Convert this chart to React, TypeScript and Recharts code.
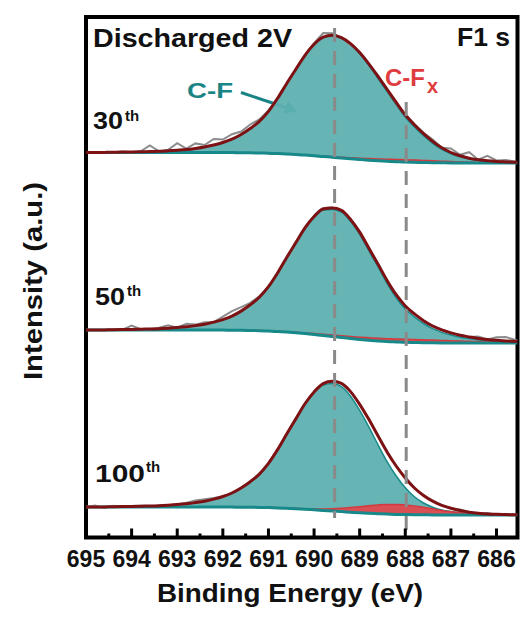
import React from 'react';
import { ComposedChart, Area, Line, XAxis, YAxis, ReferenceLine, ReferenceArea } from 'recharts';

// Binding energy grid (eV)
const energy = [695, 694.8, 694.6, 694.4, 694.2, 694, 693.8, 693.6, 693.4, 693.2, 693, 692.8, 692.6, 692.4, 692.2, 692, 691.8, 691.6, 691.4, 691.2, 691, 690.8, 690.6, 690.4, 690.2, 690, 689.8, 689.6, 689.4, 689.2, 689, 688.8, 688.6, 688.4, 688.2, 688, 687.8, 687.6, 687.4, 687.2, 687, 686.8, 686.6, 686.4, 686.2, 686, 685.8, 685.54];

// 30th cycle (offset trace, top)
const bg30 = [386.5, 386.5, 386.5, 386.5, 386.5, 386.5, 386.5, 386.5, 386.5, 386.5, 386.5, 386.5, 386.5, 386.5, 386.5, 386.5, 386.4, 386.3, 386.2, 386.0, 385.7, 385.4, 385.0, 384.5, 383.9, 383.3, 382.5, 381.8, 381.0, 380.2, 379.5, 378.8, 378.2, 377.7, 377.3, 376.9, 376.7, 376.5, 376.3, 376.2, 376.1, 376.1, 376.0, 376.0, 376.0, 376.0, 376.0, 376.0];
const cf30 = [0, 0, 0.1, 0.2, 0.4, 0.5, 0.7, 1.0, 1.2, 1.7, 2.3, 3.0, 4.1, 5.5, 7.5, 10.0, 13.4, 18.2, 24.3, 31.6, 41.9, 55.3, 70.5, 85.1, 99.6, 111.2, 119.1, 121.5, 119.7, 114.2, 105.7, 94.8, 82.6, 69.9, 57.1, 45.0, 35.2, 26.7, 19.4, 13.4, 9.1, 6.1, 4.0, 2.7, 1.8, 1.2, 0.9, 0.6];
const cfx30 = [0, 0, 0, 0, 0, 0, 0, 0, 0, 0, 0, 0, 0, 0, 0, 0, 0, 0, 0, 0, 0, 0, 0.05, 0.1, 0.15, 0.25, 0.35, 0.5, 0.7, 1.0, 1.3, 1.6, 1.9, 2.1, 2.3, 2.3, 2.3, 2.1, 1.9, 1.6, 1.3, 1.0, 0.8, 0.6, 0.4, 0.3, 0.2, 0.1];
const raw30 = [0, -0.5, 0.5, 0, 0.5, -0.5, 0.5, 6, 0, 1, 7, 1, 5, 2, 6, 3, 5, 3, 4, 2, 1, 0, -1, 0, 0, 1, 4, 2, 0, -1, 0, 0, 1, 0, -1, 0, 0.5, 1, 2, 0, 4, 1, 6, 0, 5, 1, 2, 0];

// 50th cycle (middle)
const bg50 = [209, 209, 209, 209, 209, 209, 209, 209, 209, 209, 209, 209, 209, 209, 209, 208.9, 208.8, 208.7, 208.5, 208.3, 207.9, 207.5, 206.9, 206.2, 205.4, 204.5, 203.5, 202.5, 201.5, 200.5, 199.6, 198.8, 198.1, 197.5, 197.1, 196.7, 196.5, 196.3, 196.2, 196.1, 196, 196, 196, 196, 196, 196, 196, 196];
const cf50 = [0, 0, 0.1, 0.3, 0.4, 0.5, 0.8, 1.0, 1.3, 1.8, 2.4, 3.2, 4.4, 5.8, 7.9, 10.5, 14.1, 19.2, 25.6, 33.3, 44.2, 58.2, 74.2, 89.6, 105.0, 117.1, 125.4, 127.0, 125.4, 117.1, 105.0, 89.6, 74.2, 58.2, 44.2, 33.3, 25.6, 19.2, 14.1, 10.5, 7.9, 5.8, 4.4, 3.2, 2.4, 1.8, 1.3, 1.0];
const cfx50 = [0, 0, 0, 0, 0, 0, 0, 0, 0, 0, 0, 0, 0, 0, 0, 0, 0, 0, 0.1, 0.14, 0.21, 0.3, 0.41, 0.55, 0.72, 0.92, 1.15, 1.4, 1.68, 1.96, 2.23, 2.48, 2.69, 2.86, 2.96, 3.0, 2.96, 2.86, 2.69, 2.48, 2.23, 1.96, 1.68, 1.4, 1.15, 0.92, 0.72, 0.55];
const raw50 = [0, 0, 0, 0, 0, 4, 0, 0, 1, 3, 0, 3, 1, 2, 0, 3, 5, 4, 2, 1, 0, 0, 0, 0, 0, 0, 1, 0.5, 0, 0, 0, 0, 0, 0, 0, 0, 0, 0, 0, 0, 0, 0, 0, 2, 0, 3, 4, 1];

// 100th cycle (bottom)
const bg100 = [32, 32, 32, 32, 32, 32, 32, 32, 32, 32, 32, 32, 32, 32, 32, 32, 31.9, 31.8, 31.7, 31.6, 31.4, 31.1, 30.7, 30.3, 29.8, 29.2, 28.6, 28.0, 27.4, 26.8, 26.2, 25.7, 25.3, 24.9, 24.6, 24.4, 24.3, 24.2, 24.1, 24, 24, 24, 24, 24, 24, 24, 24, 24];
const cf100 = [0, 0, 0.1, 0.3, 0.4, 0.5, 0.8, 1.0, 1.3, 1.8, 2.4, 3.2, 4.4, 5.8, 7.9, 10.5, 14.1, 19.2, 25.6, 33.3, 44.2, 58.2, 74.2, 89.6, 105.0, 117.1, 125.4, 127.5, 124.9, 116.0, 102.4, 86.4, 69.1, 52.5, 38.4, 26.9, 17.9, 11.8, 7.7, 5.1, 3.5, 2.3, 1.5, 1.0, 0.6, 0.4, 0.3, 0.1];
const cfx100 = [0, 0, 0, 0, 0, 0, 0, 0, 0, 0, 0, 0, 0, 0, 0, 0, 0, 0, 0, 0, 0, 0.05, 0.11, 0.23, 0.44, 0.79, 1.35, 2.16, 3.25, 4.58, 6.07, 7.55, 8.82, 9.69, 10, 9.69, 8.82, 7.55, 6.07, 4.58, 3.25, 2.16, 1.35, 0.79, 0.44, 0.23, 0.11, 0.05];
const raw100 = [0, 1.5, -1, 1, -0.5, 0, 0.5, 0, 0, 0, 0, 1, 2, 2, 1, 0, 0, 0, 0, 0, 0, 0, 0, 0, 0, 0, 0, 0, 0, 0, 0, 0, 0, 0, 0, 0, 0, 0, 0, 0, 0, 1, 0, 0, 1, 0, 0, 0];

const xTicks = [695, 694.5, 694, 693.5, 693, 692.5, 692, 691.5, 691, 690.5, 690, 689.5, 689, 688.5, 688, 687.5, 687, 686.5, 686];
const peakLines = [689.55, 687.98];

const series = [
  { k: '30', bg: bg30, cf: cf30, cfx: cfx30, raw: raw30 },
  { k: '50', bg: bg50, cf: cf50, cfx: cfx50, raw: raw50 },
  { k: '100', bg: bg100, cf: cf100, cfx: cfx100, raw: raw100 },
];

const rows = energy.map((e, i) => {
  const r: any = { e };
  series.forEach((s) => {
    const b = s.bg[i];
    const env = b + s.cf[i] + s.cfx[i];
    r['bg' + s.k] = b;
    r['cf' + s.k] = [b, b + s.cf[i]];
    r['cfx' + s.k] = [b, b + s.cfx[i]];
    r['env' + s.k] = env;
    r['raw' + s.k] = env + s.raw[i];
  });
  return r;
});

const FONT = "'Liberation Sans', Arial, Helvetica, sans-serif";
const TEAL_FILL = '#5eb0b0';
const TEAL_LINE = '#17898a';
const RED_FILL = '#de4a4f';
const RED_LINE = '#d23a3f';
const ENV = '#7d1215';
const RAW = '#8c8c8c';

const AxisTick = (props: any) => {
  const { x, y, payload } = props;
  const v = payload.value;
  const major = Math.abs(v - Math.round(v)) < 1e-6;
  return (
    <g>
      <line x1={x} x2={x} y1={y} y2={y - (major ? 9 : 4)} stroke="#000" strokeWidth={3} />
      {major && (
        <text x={x} y={y + 29.5} textAnchor="middle" fontSize={23} fontWeight="bold" fontFamily={FONT} fill="#111">
          {Math.round(v)}
        </text>
      )}
    </g>
  );
};

export default function App() {
  return (
    <div style={{ position: 'absolute', left: 0, top: 0, width: 520, height: 619, background: '#fff' }}>
      <ComposedChart width={520} height={619} data={rows} margin={{ top: 17, right: 2.5, bottom: 51.5, left: 86 }}>
        <XAxis
          dataKey="e"
          type="number"
          domain={[685.54, 695]}
          reversed
          ticks={xTicks}
          interval={0}
          tickLine={false}
          axisLine={false}
          tickSize={0}
          tickMargin={0}
          height={30}
          tick={<AxisTick />}
          allowDataOverflow
        />
        <YAxis hide type="number" domain={[1.5, 522]} allowDataOverflow />

        {series.map((s) => (
          <Area key={'cf' + s.k} dataKey={'cf' + s.k} type="monotone" fill={TEAL_FILL} fillOpacity={0.95} stroke={TEAL_LINE} strokeWidth={1.5} isAnimationActive={false} dot={false} activeDot={false} />
        ))}
        {series.map((s) => (
          <Area key={'cfx' + s.k} dataKey={'cfx' + s.k} type="monotone" fill={RED_FILL} fillOpacity={0.95} stroke={RED_LINE} strokeWidth={1.5} isAnimationActive={false} dot={false} activeDot={false} />
        ))}
        {series.map((s) => (
          <Line key={'bg' + s.k} dataKey={'bg' + s.k} type="monotone" stroke={TEAL_LINE} strokeWidth={3} dot={false} activeDot={false} isAnimationActive={false} />
        ))}
        {series.map((s) => (
          <Line key={'raw' + s.k} dataKey={'raw' + s.k} type="linear" stroke={RAW} strokeWidth={2} dot={false} activeDot={false} isAnimationActive={false} />
        ))}
        {series.map((s) => (
          <Line key={'env' + s.k} dataKey={'env' + s.k} type="monotone" stroke={ENV} strokeWidth={3} dot={false} activeDot={false} isAnimationActive={false} />
        ))}

        <ReferenceLine segment={[{ x: peakLines[0], y: 511 }, { x: peakLines[0], y: 21 }]} stroke="#8a8a8a" strokeWidth={3} strokeDasharray="14 9" />
        <ReferenceLine segment={[{ x: peakLines[1], y: 437 }, { x: peakLines[1], y: 1.5 }]} stroke="#8a8a8a" strokeWidth={3} strokeDasharray="14 9" />

        <ReferenceArea x1={685.54} x2={695} y1={1.5} y2={522} fill="none" fillOpacity={0} stroke="#000" strokeWidth={4} ifOverflow="visible" />

        <text x={93} y={47} fontSize={25} fontWeight="bold" fontFamily={FONT} fill="#111" textLength={199} lengthAdjust="spacingAndGlyphs">Discharged 2V</text>
        <text x={457} y={46} fontSize={25} fontWeight="bold" fontFamily={FONT} fill="#111" textLength={53} lengthAdjust="spacingAndGlyphs">F1 s</text>

        <text x={187} y={98} fontSize={22} fontWeight="bold" fontFamily={FONT} fill="#1a8485" textLength={46} lengthAdjust="spacingAndGlyphs">C-F</text>
        <line x1={241} y1={92.5} x2={286} y2={107.5} stroke="#1a8485" strokeWidth={3} />
        <polygon points="297,111.5 283,113.5 288,101.5" fill="#1a8485" />

        <text x={385} y={86} fontSize={23} fontWeight="bold" fontFamily={FONT} fill="#df3c40" textLength={40} lengthAdjust="spacingAndGlyphs">C-F</text>
        <text x={427} y={93} fontSize={20} fontWeight="bold" fontFamily={FONT} fill="#df3c40">x</text>

        <text x={93} y={129} fontSize={23} fontWeight="bold" fontFamily={FONT} fill="#111" textLength={30} lengthAdjust="spacingAndGlyphs">30</text>
        <text x={125} y={120.5} fontSize={15} fontWeight="bold" fontFamily={FONT} fill="#111">th</text>
        <text x={95} y={305} fontSize={23} fontWeight="bold" fontFamily={FONT} fill="#111" textLength={30} lengthAdjust="spacingAndGlyphs">50</text>
        <text x={127} y={296} fontSize={15} fontWeight="bold" fontFamily={FONT} fill="#111">th</text>
        <text x={95} y={482} fontSize={23} fontWeight="bold" fontFamily={FONT} fill="#111" textLength={50} lengthAdjust="spacingAndGlyphs">100</text>
        <text x={146} y={472} fontSize={15} fontWeight="bold" fontFamily={FONT} fill="#111">th</text>

        <text x={290} y={602} textAnchor="middle" fontSize={25} fontWeight="bold" fontFamily={FONT} fill="#111" textLength={266} lengthAdjust="spacingAndGlyphs">Binding Energy (eV)</text>
        <text x={0} y={0} transform="translate(42,281) rotate(-90)" textAnchor="middle" fontSize={25} fontWeight="bold" fontFamily={FONT} fill="#111" textLength={198} lengthAdjust="spacingAndGlyphs">Intensity (a.u.)</text>
      </ComposedChart>
    </div>
  );
}
